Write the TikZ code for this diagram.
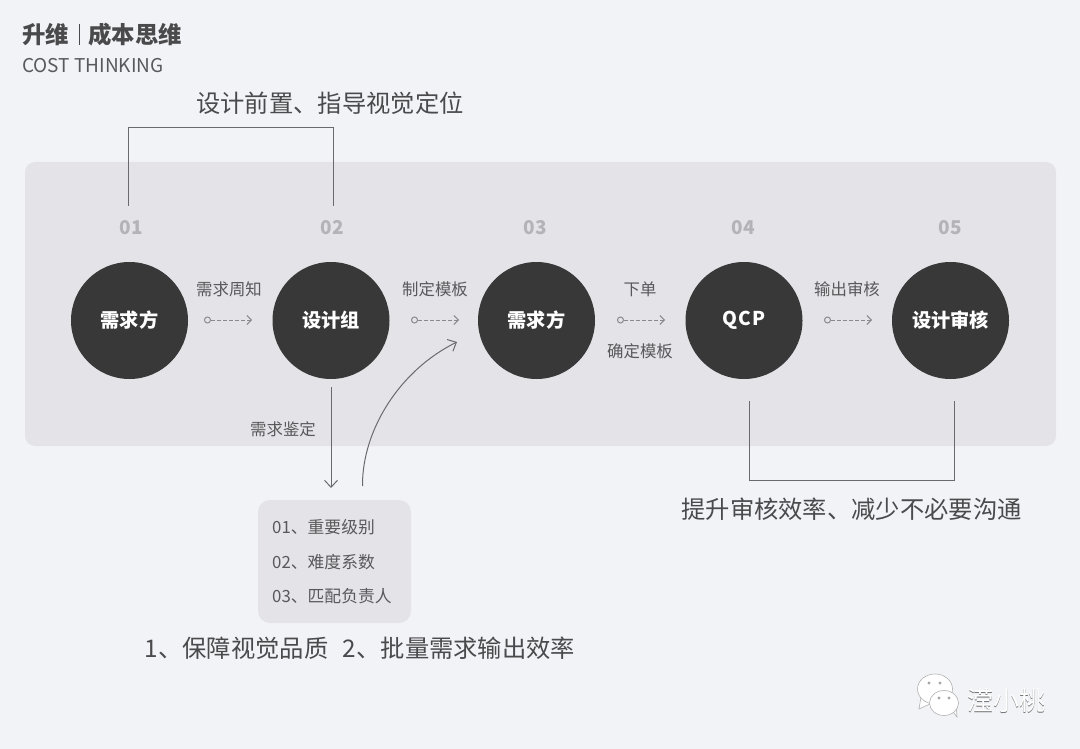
\documentclass[tikz,border=0pt]{standalone}
\usepackage{fontspec}
\setmainfont{Noto Sans CJK SC}
\usetikzlibrary{arrows.meta}
\definecolor{pagebg}{HTML}{F2F3F7}
\definecolor{panelbg}{HTML}{E4E4E8}
\definecolor{disc}{HTML}{383838}
\definecolor{ink}{HTML}{4A4A4C}
\definecolor{soft}{HTML}{59595C}
\definecolor{numgrey}{HTML}{B4B4B8}
\definecolor{linegrey}{HTML}{6A6A6C}
\definecolor{dashgrey}{HTML}{8A8A8C}
\newcommand{\stagetext}[1]{\raisebox{-1pt}{#1}}
\tikzset{
  stage/.style={circle,fill=disc,minimum size=117pt,inner sep=0pt,text=white,font=\fontsize{19.2}{20}\selectfont\bfseries},
  stagenum/.style={text=numgrey,font=\fontsize{19}{20}\selectfont\bfseries,inner sep=0pt},
  small/.style={text=soft,font=\fontsize{16.4}{18}\selectfont,inner sep=0pt},
  big/.style={text=ink,font=\fontsize{24.3}{26}\selectfont,inner sep=0pt},
  listrow/.style={text=soft,font=\fontsize{16.8}{18}\selectfont,inner sep=0pt,anchor=west},
  titletext/.style={text=ink,font=\fontsize{23.4}{24}\selectfont\bfseries,inner sep=0pt,anchor=west},
  bracket/.style={draw=linegrey,line width=1pt},
  flowline/.style={draw=linegrey,line width=1pt,-{Straight Barb[length=7pt,width=13pt,line width=1pt]}},
  smallflow/.style={draw=dashgrey,line width=1pt,dash pattern=on 3.5pt off 2.5pt,-{Straight Barb[length=4.5pt,width=9pt,line width=1pt,sep=0pt]}},
  startdot/.style={circle,draw=dashgrey,line width=1pt,minimum size=6pt,inner sep=0pt},
}
\begin{document}
\begin{tikzpicture}[x=1pt,y=-1pt]
\useasboundingbox (0,0) rectangle (1080,749);
\fill[pagebg] (0,0) rectangle (1080,749);
\fill[panelbg,rounded corners=10pt] (25,162) rectangle (1056,446);
\fill[panelbg,rounded corners=12pt] (258,500) rectangle (411,623);

\node[titletext] (title1) at (22,34.5) {升维};
\node[titletext] (title2) at (88,34.5) {成本思维};
\coordinate (tbar1) at (79.5,24);
\coordinate (tbar2) at (79.5,45);
\draw[draw=ink,line width=1.2pt] (tbar1) -- (tbar2);
\node[text=soft,font=\fontsize{19}{21}\selectfont,inner sep=0pt,anchor=west] (subtitle) at (22,65.5) {COST THINKING};

\node[big] (topnote) at (330,103.5) {设计前置、指导视觉定位};
\node[big] (rightnote) at (851.5,509.5) {提升审核效率、减少不必要沟通};
\node[big] (bottomnote) at (360,648.5) {1、保障视觉品质\hspace{0.6em}2、批量需求输出效率};

\node[stagenum] (n1) at (131,228) {01};
\node[stagenum] (n2) at (332,228) {02};
\node[stagenum] (n3) at (535.5,228) {03};
\node[stagenum] (n4) at (743.5,228) {04};
\node[stagenum] (n5) at (950.5,228) {05};

\node[stage] (s1) at (129.5,320.5) {\stagetext{需求方}};
\node[stage] (s2) at (331,320.5) {\stagetext{设计组}};
\node[stage] (s3) at (536.5,320.5) {\stagetext{需求方}};
\node[stage,font=\fontsize{19}{20}\selectfont\bfseries] (s4) at (744,320.5) {\raisebox{-1.5pt}{Q\kern1.2pt C\kern1.2pt P}};
\node[stage] (s5) at (950.5,320.5) {\stagetext{设计审核}};

\node[small] (l1) at (229,289.5) {需求周知};
\node[small] (l2) at (435,289.5) {制定模板};
\node[small] (l3) at (640,289.5) {下单};
\node[small] (l3b) at (640,351.5) {确定模板};
\node[small] (l4) at (847,289.5) {输出审核};
\node[small] (l5) at (283,429.5) {需求鉴定};

\node[startdot] (d1) at (207.5,320) {};
\coordinate (e1) at (252,320);
\draw[smallflow] (d1) -- (e1);
\node[startdot] (d2) at (414.5,320) {};
\coordinate (e2) at (459,320);
\draw[smallflow] (d2) -- (e2);
\node[startdot] (d3) at (620.5,320) {};
\coordinate (e3) at (665,320);
\draw[smallflow] (d3) -- (e3);
\node[startdot] (d4) at (827.5,320) {};
\coordinate (e4) at (872,320);
\draw[smallflow] (d4) -- (e4);

% bracket 01-02
\coordinate (b1a) at (128,206);
\coordinate (b1b) at (128,127.5);
\coordinate (b1c) at (333.5,127.5);
\coordinate (b1d) at (333.5,206);
\draw[bracket] (b1a) -- (b1b) -- (b1c) -- (b1d);
% bracket 04-05
\coordinate (b2a) at (749,401);
\coordinate (b2b) at (749,480);
\coordinate (b2c) at (954,480);
\coordinate (b2d) at (954,401);
\draw[bracket] (b2a) -- (b2b) -- (b2c) -- (b2d);

\coordinate (downtop) at (331,387);
\coordinate (downend) at (331,488);
\draw[flowline] (downtop) -- (downend);
\coordinate (curvestart) at (362.5,486);
\coordinate (curveend) at (457,342);
\draw[flowline] (curvestart) .. controls (362,430) and (400,370) .. (curveend);

\node[listrow] (r1) at (272,527.5) {01、重要级别};
\node[listrow] (r2) at (272,562.5) {02、难度系数};
\node[listrow] (r3) at (272,596.5) {03、匹配负责人};

% watermark
\begin{scope}[draw=black!30,line width=.6pt,fill=white]
\filldraw (921,697) -- (919,709) -- (932,703) -- cycle;
\filldraw (935,689) ellipse (17.5pt and 15pt);
\filldraw (950,708) -- (957,717) -- (956,704) -- cycle;
\filldraw (944,703) ellipse (14.5pt and 12.5pt);
\fill[black!35] (929,683) circle (1.7pt) (940,683) circle (1.7pt) (939,698) circle (1.6pt) (949,698) circle (1.6pt);
\end{scope}
\node[text=black!55,font=\fontsize{26}{28}\selectfont,inner sep=0pt] (wmshadow) at (1006.9,701.9) {滢小桃};
\node[text=white,font=\fontsize{26}{28}\selectfont,inner sep=0pt] (wm) at (1006,701) {滢小桃};
\end{tikzpicture}
\end{document}
